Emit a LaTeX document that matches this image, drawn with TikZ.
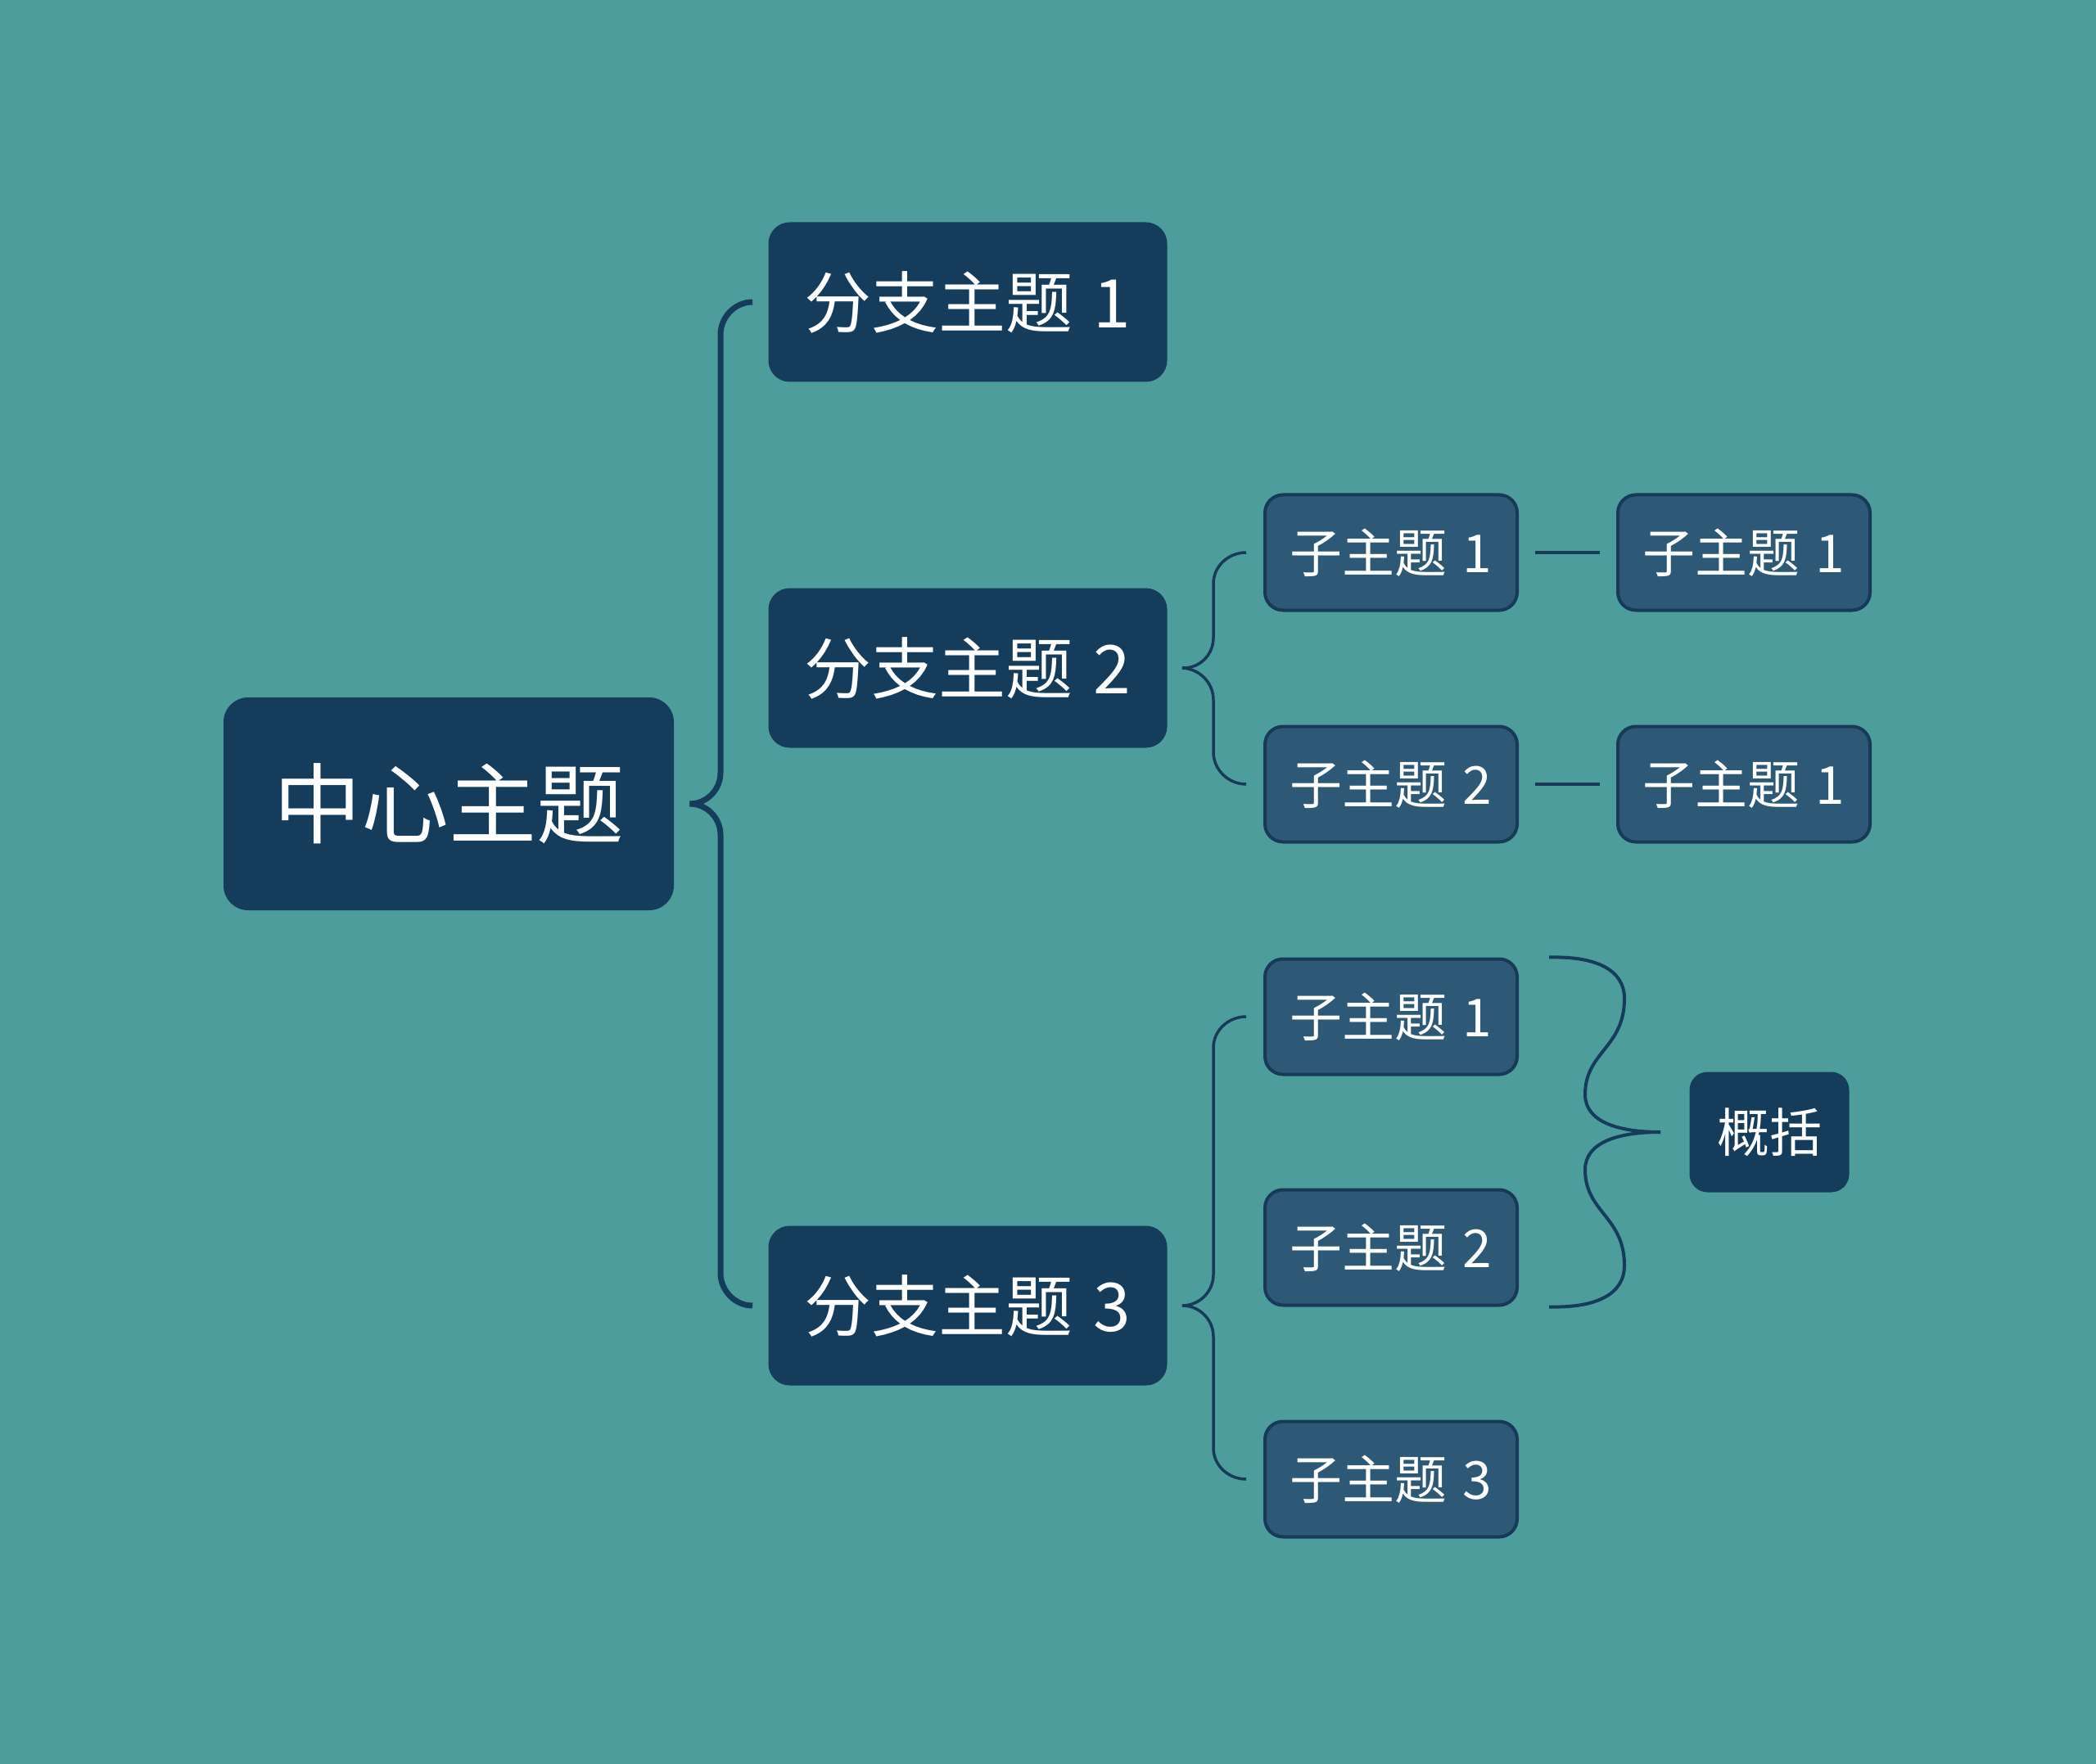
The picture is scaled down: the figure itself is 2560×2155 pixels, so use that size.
\documentclass[tikz,border=0pt]{standalone}
\usepackage{fontspec}
\setmainfont{Noto Sans CJK SC}
\usepackage{xcolor}
\usepackage{tikz}
\usetikzlibrary{positioning,calc}
\definecolor{bgteal}{HTML}{4D9D9D}
\definecolor{darkblue}{HTML}{163C5C}
\definecolor{subblue}{HTML}{2D5876}
\definecolor{subedge}{HTML}{183A58}

\begin{document}
\begin{tikzpicture}[x=0.5pt,y=-0.5pt,
    centertopic/.style={fill=darkblue,text=white,rounded corners=15pt,minimum width=275pt,minimum height=130pt,inner sep=0pt,font=\fontsize{53.5}{60}\selectfont},
    branchtopic/.style={fill=darkblue,text=white,rounded corners=13pt,minimum width=243.5pt,minimum height=97.5pt,inner sep=0pt,font=\fontsize{41}{48}\selectfont},
    subtopic/.style={fill=subblue,draw=subedge,line width=2pt,text=white,rounded corners=11pt,minimum width=154pt,minimum height=70.5pt,inner sep=0pt,font=\fontsize{32}{38}\selectfont},
    sumtopic/.style={fill=darkblue,text=white,rounded corners=11pt,minimum width=97.5pt,minimum height=73.5pt,inner sep=0pt,font=\fontsize{32}{38}\selectfont},
    mainline/.style={draw=darkblue,line width=3.5pt},
    subline/.style={draw=subedge,line width=1.75pt},
    sumline/.style={draw=darkblue,line width=2pt}]
    \fill[bgteal] (0,0) rectangle (2560,2155);
    \useasboundingbox (0,0) rectangle (2560,2155);

    % topics
    \node[centertopic] (center) at (548,982) {中心主题};
    \node[branchtopic] (b1) at (1182,369) {分支主题\hspace{0.3em}1};
    \node[branchtopic] (b2) at (1182,816) {分支主题\hspace{0.3em}2};
    \node[branchtopic] (b3) at (1182,1595) {分支主题\hspace{0.3em}3};

    \node[subtopic] (s21) at (1699,675) {子主题\hspace{0.3em}1};
    \node[subtopic] (s22) at (1699,958) {子主题\hspace{0.3em}2};
    \node[subtopic] (r1) at (2130,675) {子主题\hspace{0.3em}1};
    \node[subtopic] (r2) at (2130,958) {子主题\hspace{0.3em}1};

    \node[subtopic] (s31) at (1699,1242) {子主题\hspace{0.3em}1};
    \node[subtopic] (s32) at (1699,1524) {子主题\hspace{0.3em}2};
    \node[subtopic] (s33) at (1699,1807) {子主题\hspace{0.3em}3};
    \node[sumtopic] (sum) at (2161,1383) {概括};

    % free ends of the braces
    \coordinate (tip0) at ($(center.east)+(19,0)$);
    \coordinate (tip2) at ($(b2.east)+(18,0)$);
    \coordinate (tip3) at ($(b3.east)+(18,0)$);
    \coordinate (sumtop) at ($(s31.north east)+(37,0)$);
    \coordinate (sumbot) at ($(s32.south east)+(37,0)$);
    \coordinate (sumtip) at ($(sum.west)+(-35,0)$);

    % main brace
    \draw[mainline] (tip0) .. controls (863,982) and (880,965) .. (880,944)
        -- (880,409) .. controls (880,387) and (898,369) .. ($(b1.west)+(-19,0)$);
    \draw[mainline] (tip0) .. controls (863,982) and (880,999) .. (880,1020)
        -- (880,1555) .. controls (880,1577) and (898,1595) .. ($(b3.west)+(-19,0)$);

    % brace of branch 2
    \draw[subline] (tip2) .. controls (1465,817) and (1482,800) .. (1482,779)
        -- (1482,713) .. controls (1482,692) and (1500,675) .. ($(s21.west)+(-21,0)$);
    \draw[subline] (tip2) .. controls (1465,817) and (1482,834) .. (1482,855)
        -- (1482,919) .. controls (1482,940) and (1500,958) .. ($(s22.west)+(-21,0)$);

    % brace of branch 3
    \draw[subline] (tip3) .. controls (1465,1595) and (1482,1578) .. (1482,1557)
        -- (1482,1280) .. controls (1482,1259) and (1500,1242) .. ($(s31.west)+(-21,0)$);
    \draw[subline] (tip3) .. controls (1465,1595) and (1482,1612) .. (1482,1633)
        -- (1482,1769) .. controls (1482,1790) and (1500,1807) .. ($(s33.west)+(-21,0)$);

    % lines to the right
    \draw[subline,shorten <=10pt,shorten >=10pt] (s21) -- (r1);
    \draw[subline,shorten <=10pt,shorten >=10pt] (s22) -- (r2);

    % summary brace
    \draw[sumline] (sumtop) .. controls (1950,1168) and (1984,1185) .. (1984,1220)
        .. controls (1984,1280) and (1936,1285) .. (1936,1337)
        .. controls (1936,1370) and (1975,1383) .. (sumtip);
    \draw[sumline] (sumbot) .. controls (1950,1598) and (1984,1581) .. (1984,1546)
        .. controls (1984,1486) and (1936,1481) .. (1936,1429)
        .. controls (1936,1396) and (1975,1383) .. (sumtip);
\end{tikzpicture}
\end{document}
